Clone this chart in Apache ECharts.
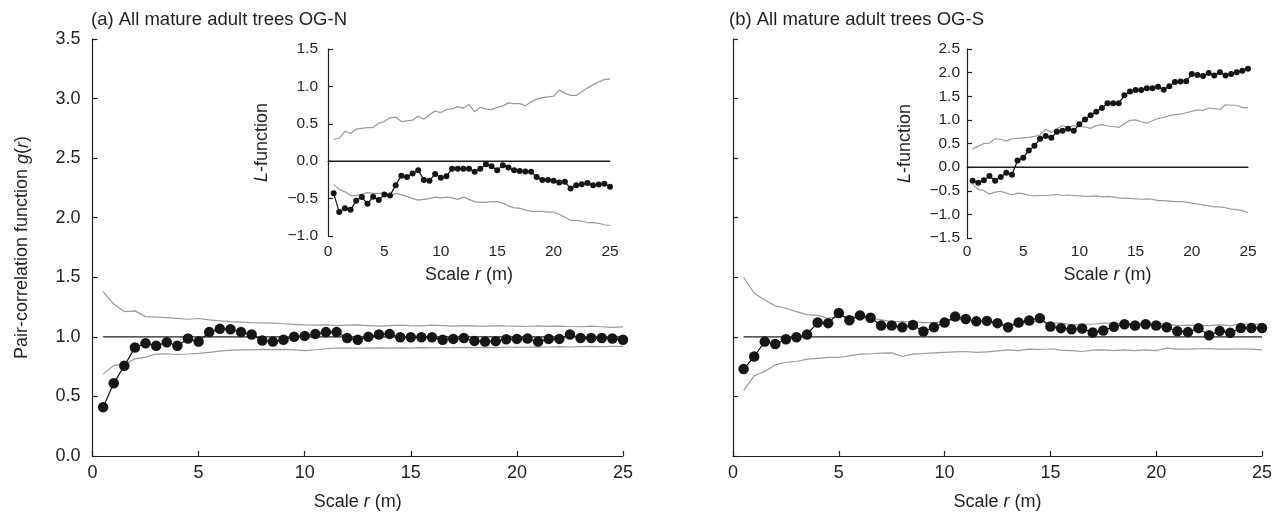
<!DOCTYPE html>
<html>
<head>
<meta charset="utf-8">
<style>
html,body{margin:0;padding:0;background:#fff;}
#chart{width:1282px;height:516px;}
</style>
<script src="https://cdn.jsdelivr.net/npm/echarts@6/dist/echarts.min.js"></script>
</head>
<body>
<div id="chart"></div>
<script>
// ---- data ----
const r = [0.5,1,1.5,2,2.5,3,3.5,4,4.5,5,5.5,6,6.5,7,7.5,8,8.5,9,9.5,10,10.5,11,11.5,12,12.5,13,13.5,14,14.5,15,15.5,16,16.5,17,17.5,18,18.5,19,19.5,20,20.5,21,21.5,22,22.5,23,23.5,24,24.5,25];
const refRange = [0.5, 25];
const refG = 1;
const refL = 0;

const gN = [0.41,0.61,0.757,0.91,0.947,0.925,0.955,0.925,0.986,0.96,
  1.04,1.067,1.064,1.04,1.02,0.97,0.96,0.975,1.0,1.008,
  1.025,1.04,1.04,0.99,0.975,1.0,1.02,1.025,0.997,0.997,
  0.997,0.997,0.975,0.983,0.99,0.966,0.96,0.964,0.98,0.983,
  0.986,0.96,0.983,0.983,1.02,0.99,0.99,0.99,0.986,0.975];
const gNup = [1.38,1.274,1.212,1.218,1.17,1.165,1.162,1.155,1.148,1.154,
  1.142,1.135,1.128,1.123,1.12,1.118,1.115,1.11,1.105,1.1,
  1.098,1.1,1.095,1.098,1.1,1.095,1.09,1.095,1.098,1.095,
  1.093,1.098,1.095,1.09,1.095,1.092,1.088,1.095,1.092,1.09,
  1.087,1.092,1.088,1.09,1.087,1.085,1.09,1.085,1.08,1.083];
const gNlo = [0.687,0.76,0.77,0.815,0.83,0.855,0.858,0.852,0.856,0.862,
  0.87,0.88,0.888,0.89,0.89,0.895,0.892,0.895,0.89,0.885,
  0.892,0.9,0.905,0.905,0.906,0.905,0.908,0.905,0.908,0.906,
  0.91,0.908,0.91,0.91,0.912,0.91,0.912,0.91,0.915,0.912,
  0.915,0.913,0.915,0.918,0.915,0.918,0.92,0.918,0.92,0.92];

const gS = [0.73,0.835,0.96,0.94,0.98,0.997,1.02,1.12,1.115,1.2,
  1.14,1.18,1.16,1.095,1.095,1.08,1.1,1.045,1.08,1.12,
  1.17,1.15,1.13,1.134,1.115,1.08,1.12,1.137,1.157,1.087,
  1.073,1.064,1.07,1.036,1.053,1.084,1.106,1.095,1.106,1.095,
  1.08,1.047,1.04,1.073,1.014,1.05,1.034,1.075,1.075,1.075];
const gSup = [1.5,1.366,1.31,1.26,1.24,1.212,1.187,1.18,1.156,1.17,
  1.17,1.165,1.156,1.142,1.128,1.128,1.126,1.12,1.12,1.128,
  1.142,1.148,1.142,1.128,1.115,1.1,1.115,1.126,1.128,1.115,
  1.115,1.1,1.106,1.106,1.115,1.115,1.109,1.109,1.115,1.115,
  1.109,1.095,1.098,1.095,1.095,1.1,1.095,1.106,1.109,1.106];
const gSlo = [0.55,0.673,0.71,0.765,0.787,0.793,0.813,0.82,0.827,0.827,
  0.84,0.855,0.858,0.863,0.866,0.835,0.855,0.86,0.866,0.87,
  0.874,0.877,0.869,0.874,0.883,0.891,0.885,0.897,0.894,0.9,
  0.888,0.885,0.877,0.888,0.891,0.885,0.891,0.885,0.891,0.885,
  0.905,0.897,0.897,0.9,0.902,0.897,0.897,0.9,0.897,0.891];

const lN = [-0.43,-0.68,-0.63,-0.65,-0.53,-0.48,-0.57,-0.475,-0.52,-0.445,
  -0.46,-0.32,-0.195,-0.21,-0.165,-0.12,-0.25,-0.26,-0.17,-0.22,
  -0.2,-0.1,-0.1,-0.1,-0.1,-0.14,-0.1,-0.04,-0.067,-0.12,
  -0.053,-0.084,-0.12,-0.13,-0.138,-0.142,-0.21,-0.253,-0.253,-0.26,
  -0.284,-0.276,-0.364,-0.32,-0.307,-0.29,-0.32,-0.31,-0.3,-0.342];
const lNup = [0.29,0.31,0.4,0.37,0.43,0.44,0.45,0.45,0.51,0.53,
  0.58,0.59,0.53,0.54,0.55,0.6,0.56,0.62,0.67,0.65,
  0.69,0.7,0.73,0.71,0.76,0.66,0.72,0.7,0.69,0.72,
  0.74,0.78,0.77,0.77,0.74,0.79,0.83,0.85,0.86,0.87,
  0.95,0.91,0.88,0.88,0.93,0.98,1.02,1.06,1.09,1.1];
const lNlo = [-0.31,-0.38,-0.41,-0.46,-0.46,-0.44,-0.42,-0.43,-0.43,-0.42,
  -0.47,-0.43,-0.45,-0.47,-0.5,-0.52,-0.51,-0.5,-0.48,-0.49,
  -0.48,-0.49,-0.51,-0.48,-0.51,-0.54,-0.55,-0.55,-0.54,-0.54,
  -0.56,-0.6,-0.62,-0.63,-0.65,-0.67,-0.67,-0.67,-0.68,-0.68,
  -0.71,-0.75,-0.79,-0.79,-0.8,-0.82,-0.82,-0.83,-0.85,-0.86];

const lS = [-0.29,-0.33,-0.28,-0.19,-0.29,-0.21,-0.12,-0.16,0.14,0.2,
  0.35,0.45,0.6,0.66,0.62,0.75,0.77,0.81,0.77,0.91,
  1.01,1.1,1.17,1.25,1.35,1.35,1.35,1.52,1.6,1.63,
  1.63,1.67,1.67,1.7,1.64,1.71,1.8,1.81,1.82,1.97,
  1.95,1.93,1.99,1.94,2.01,1.94,1.97,2.01,2.04,2.08];
const lSup = [0.39,0.44,0.5,0.51,0.6,0.59,0.55,0.6,0.61,0.62,
  0.63,0.65,0.68,0.8,0.74,0.81,0.88,0.84,0.88,0.86,
  0.85,0.82,0.88,0.9,0.87,0.86,0.84,0.92,0.99,1.0,
  0.96,0.93,0.98,1.03,1.05,1.09,1.11,1.12,1.15,1.18,
  1.21,1.2,1.25,1.24,1.22,1.32,1.31,1.31,1.26,1.26];
const lSlo = [-0.36,-0.47,-0.5,-0.57,-0.53,-0.51,-0.55,-0.59,-0.55,-0.56,
  -0.6,-0.61,-0.6,-0.6,-0.59,-0.58,-0.6,-0.59,-0.6,-0.61,
  -0.62,-0.62,-0.61,-0.63,-0.62,-0.63,-0.65,-0.66,-0.66,-0.67,
  -0.68,-0.67,-0.68,-0.71,-0.71,-0.72,-0.73,-0.73,-0.74,-0.76,
  -0.78,-0.8,-0.82,-0.84,-0.84,-0.86,-0.89,-0.9,-0.92,-0.96];

const titles = ['(a) All mature adult trees OG-N', '(b) All mature adult trees OG-S'];

// ---- styling ----
const FONT = '"Liberation Sans", Arial, Helvetica, sans-serif';
const INK = '#231f20';
const ENV = '#9a9a9a';

function pairs(ys){ return r.map((x,i)=>[x, ys[i]]); }
function fmt(v){ return v.toFixed(1).replace('-', '\u2212'); }

const nameRich = {
  n:{fontFamily:FONT,fontSize:18,color:INK},
  i:{fontFamily:FONT,fontSize:18,color:INK,fontStyle:'italic'}
};
const xName = '{n|Scale }{i|r}{n| (m)}';

function xAxis(grid, inset, gap, margin){
  return {
    type:'value', gridIndex:grid, min:0, max:25, interval:5,
    name:xName, nameLocation:'middle', nameGap:gap,
    nameTextStyle:{rich:nameRich},
    axisLine:{lineStyle:{color:INK,width:1.2}},
    axisTick:{show:!inset,inside:true,length:5,lineStyle:{color:INK,width:1.2}},
    axisLabel:{fontFamily:FONT,fontSize:inset?15.5:18,color:INK,margin:margin},
    splitLine:{show:false}
  };
}
function yAxis(grid, min, max, opts){
  return Object.assign({
    type:'value', gridIndex:grid, min:min, max:max, interval:0.5,
    nameLocation:'middle',
    nameTextStyle:{rich:nameRich},
    axisLine:{show:true,lineStyle:{color:INK,width:1.2}},
    axisTick:{show:true,inside:true,length:5,lineStyle:{color:INK,width:1.2}},
    axisLabel:{fontFamily:FONT,fontSize:18,color:INK,margin:12,formatter:fmt},
    splitLine:{show:false}
  }, opts||{});
}

function env(ax, ys){
  return {type:'line', xAxisIndex:ax, yAxisIndex:ax, data:pairs(ys), symbol:'none',
    lineStyle:{color:ENV,width:1.2}, z:2, silent:true};
}
function ref(ax, y, start){
  return {type:'line', xAxisIndex:ax, yAxisIndex:ax, data:[[start,y],[refRange[1],y]], symbol:'none',
    lineStyle:{color:INK,width:1.2}, z:3, silent:true};
}
function obs(ax, ys, size){
  return {type:'line', xAxisIndex:ax, yAxisIndex:ax, data:pairs(ys), symbol:'circle', symbolSize:size,
    showSymbol:true, lineStyle:{color:'#111',width:1.2}, itemStyle:{color:'#161616'}, z:4, silent:true};
}

const chart = echarts.init(document.getElementById('chart'), null, {renderer:'canvas'});
chart.setOption({
  animation:false,
  backgroundColor:'#fff',
  grid:[
    {left:92.5, top:39, width:530.5, height:417},
    {left:733, top:39, width:529, height:417},
    {left:328, top:49, width:282, height:187},
    {left:967, top:49, width:281, height:189}
  ],
  xAxis:[xAxis(0,false,37,8), xAxis(1,false,37,8), xAxis(2,true,30,8), xAxis(3,true,28,6)],
  yAxis:[
    yAxis(0,0,3.5,{name:'{n|Pair-correlation function }{i|g}{n|(}{i|r}{n|)}', nameGap:61}),
    yAxis(1,0,3.5,{axisLabel:{show:false}}),
    yAxis(2,-1,1.5,{name:'{i|L}{n|-function}', nameGap:57, axisLabel:{fontFamily:FONT,fontSize:15.5,color:INK,margin:10,formatter:fmt}}),
    yAxis(3,-1.5,2.5,{name:'{i|L}{n|-function}', nameGap:53, axisLabel:{fontFamily:FONT,fontSize:15.5,color:INK,margin:7,formatter:fmt}})
  ],
  graphic:[
    {type:'text', left:91, top:10, style:{text:titles[0], font:'18.5px '+FONT, fill:INK}},
    {type:'text', left:729, top:10, style:{text:titles[1], font:'18.5px '+FONT, fill:INK}}
  ],
  series:[
    env(0,gNup), env(0,gNlo), ref(0,refG,refRange[0]), obs(0,gN,10.5),
    env(1,gSup), env(1,gSlo), ref(1,refG,refRange[0]), obs(1,gS,10.5),
    env(2,lNup), env(2,lNlo), ref(2,refL,0), obs(2,lN,6),
    env(3,lSup), env(3,lSlo), ref(3,refL,0), obs(3,lS,6)
  ]
});
</script>
</body>
</html>
